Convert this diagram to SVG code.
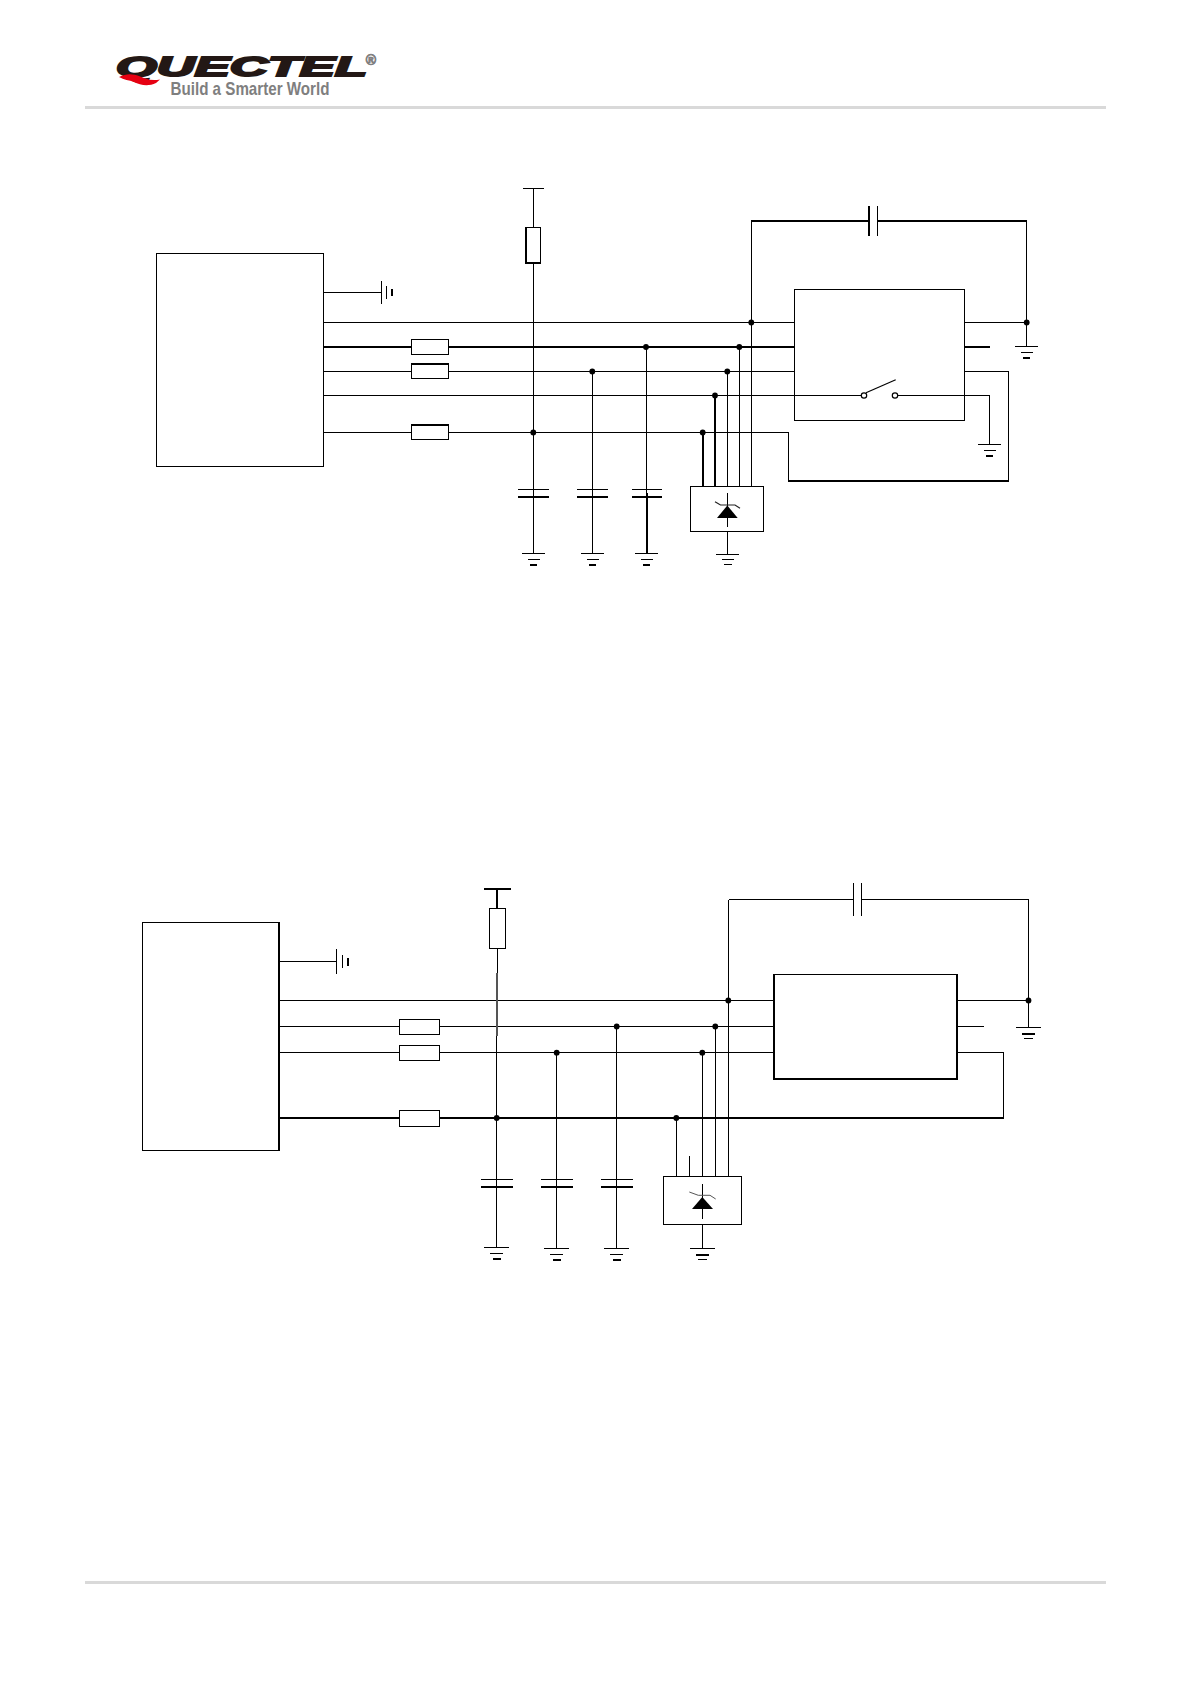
<svg xmlns="http://www.w3.org/2000/svg" width="1191" height="1685" viewBox="0 0 1191 1685">
<style>
.w{stroke:#000;stroke-width:1;fill:none;shape-rendering:crispEdges}
.k{stroke:#000;stroke-width:2;fill:none;shape-rendering:crispEdges}
.g{stroke:#555;stroke-width:2;fill:none;shape-rendering:crispEdges}
.b{stroke:#000;stroke-width:1;fill:#fff;shape-rendering:crispEdges}
.d{fill:#000}
.rule{stroke:#d9d9d9;stroke-width:3;shape-rendering:crispEdges}
.sw{stroke:#000;stroke-width:1.2;fill:#fff}
</style>
<defs>
<g id="gnd-a"><path class="w" d="M-11.5 0H11.5M-6 5.5H6"/><path class="k" d="M-3.5 11H3.5"/></g>
<g id="gnd-t"><path class="w" d="M-11.5 0H11.5M-6 5H6M-4 10H4"/></g>
<g id="gnd-b"><path class="w" d="M-12.5 0H12.5M-6.5 6H6.5"/><path class="k" d="M-4 11H4"/></g>
<g id="gnd-c"><path class="w" d="M-12.5 0H12.5M-4.5 11H4.5"/><path class="k" d="M-6.5 6H6.5"/></g>
<circle id="dot" class="d" r="2.9"/>
</defs>

<g id="logo">
<text x="116" y="76" font-family="Liberation Sans, sans-serif" font-size="28" font-weight="700" font-style="italic" textLength="251" lengthAdjust="spacingAndGlyphs" fill="#231815" stroke="#231815" stroke-width="2">QUECTEL</text>
<path d="M119 77C127 73 133 74 139 76C145 79 151 81 160 79.500L156 83C148 87 140 85 134 82C129 80 124 80 119 77Z" fill="#e60012"/>
<text x="371" y="65" font-family="Liberation Sans, sans-serif" font-size="14" font-weight="700" fill="#808080" stroke="#808080" stroke-width="0.800" text-anchor="middle">®</text>
<text x="170.500" y="94.500" font-family="Liberation Sans, sans-serif" font-size="18.500" font-weight="700" textLength="159" lengthAdjust="spacingAndGlyphs" fill="#7f7f7f">Build a Smarter World</text>
</g>
<g id="page-rules">
<line class="rule" x1="85" y1="107.500" x2="1106" y2="107.500"/>
<line class="rule" x1="85" y1="1582.500" x2="1106" y2="1582.500"/>
</g>

<g id="connectors">
<!-- top circuit -->
<path class="w" d="M323.500 292.500H381.500"/>
<path class="w" d="M323.500 322.500H1026.500"/>
<path class="k" d="M323.500 347H794"/>
<path class="w" d="M323.500 371.500H794"/>
<path class="w" d="M323.500 395.500H864"/>
<path class="w" d="M323.500 432.500H788.500V480.500"/>
<path class="w" d="M533.500 188.500V553"/>
<path class="w" d="M592.500 371.500V553"/>
<path class="w" d="M646.500 347V493"/>
<path class="k" d="M647 493V553"/>
<path class="k" d="M703 432.500V486M715 395.500V486"/>
<path class="w" d="M727.500 371.500V486M739.500 347V486M751.500 221V486"/>
<path class="k" d="M751 221H869M877 221H1027"/>
<path class="k" d="M788 481H1009"/>
<path class="w" d="M1026.500 221V346"/>
<path class="k" d="M964 347H989.500"/>
<path class="w" d="M964 371.500H1008.500V481"/>
<path class="w" d="M897 395.500H989.500V444"/>
<path class="w" d="M727.500 531V554"/>
<!-- bottom circuit -->
<path class="w" d="M279 961.500H336.500"/>
<path class="w" d="M279 1000.500H1028.500"/>
<path class="w" d="M279 1026.500H774"/>
<path class="w" d="M279 1052.500H774"/>
<path class="k" d="M279 1118H1003.500"/>
<path class="k" d="M497 889V908"/>
<path class="w" d="M497 948V973"/>
<path class="g" d="M497 973V1036"/>
<path class="w" d="M496.500 1036V1247"/>
<path class="w" d="M556.500 1052.500V1248"/>
<path class="w" d="M616.500 1026.500V1248"/>
<path class="w" d="M676.500 1118V1176M689.500 1156V1176M702.500 1052.500V1176M715.500 1026.500V1176M728.500 899.500V1176"/>
<path class="w" d="M728.500 899.500H853M861 899.500H1028.500V1027"/>
<path class="w" d="M957 1026.500H983.500"/>
<path class="w" d="M957 1052.500H1003.500V1118"/>
<path class="w" d="M702.500 1224V1248"/>
</g>

<g id="top-host">
<rect class="b" x="156.500" y="253.500" width="167" height="213"/>
<path class="w" d="M381.500 281V304M386.500 286V299"/><path class="k" d="M392 289V296"/>
</g>
<g id="top-pullup">
<path class="w" d="M522.500 188.500H544"/>
<rect class="b" x="525.500" y="227.500" width="15" height="36"/>
<path class="k" d="M526 227V264M525 263H541"/>
</g>
<g id="top-r1"><rect class="b" x="411.500" y="339.500" width="37" height="15"/></g>
<g id="top-r2"><rect class="b" x="411.500" y="363.500" width="37" height="15"/><path class="k" d="M411 364H449"/></g>
<g id="top-r3"><rect class="b" x="411.500" y="424.500" width="37" height="15"/><path class="k" d="M411 425H449"/></g>
<g id="top-c1"><path class="w" d="M518 489.500H548.500"/><path class="k" d="M518 497H548.500"/><use href="#gnd-a" x="533.500" y="553.500"/></g>
<g id="top-c2"><path class="w" d="M577 489.500H607.500"/><path class="k" d="M577 497H607.500"/><use href="#gnd-a" x="592.500" y="553.500"/></g>
<g id="top-c3"><path class="w" d="M631.500 489.500H662"/><path class="k" d="M631.500 497H662"/><use href="#gnd-a" x="646.500" y="553.500"/></g>
<g id="top-cs"><path class="k" d="M869 206V236"/><path class="w" d="M877.500 206V236"/></g>
<g id="top-chip">
<rect class="b" x="794.500" y="289.500" width="170" height="131"/>
<path class="w" d="M794.500 395.500H864M897 395.500H964.500"/>
<path class="sw" d="M866 392.700L895.700 379.700" fill="none"/>
<circle class="sw" cx="864" cy="395.500" r="2.700"/>
<circle class="sw" cx="895" cy="395.500" r="2.700"/>
</g>
<g id="top-tvs">
<rect class="b" x="690.500" y="486.500" width="73" height="45"/>
<path class="w" d="M727.500 493V527"/>
<path d="M727.300 505.500L737.700 518H717Z" class="d"/>
<path d="M715 501.700L720.500 505H735L740 508.300" fill="none" stroke="#222" stroke-width="1.200"/>
<use href="#gnd-t" x="727.500" y="554.500"/>
</g>
<g id="top-gnd-r"><use href="#gnd-a" x="1026.500" y="346.500"/><use href="#gnd-a" x="989.500" y="444.500"/></g>
<g id="top-dots">
<use href="#dot" x="533.300" y="432.500"/><use href="#dot" x="592.300" y="371.500"/><use href="#dot" x="646" y="347"/>
<use href="#dot" x="702.700" y="432.500"/><use href="#dot" x="715" y="395.500"/><use href="#dot" x="727.300" y="371.500"/>
<use href="#dot" x="739.300" y="347"/><use href="#dot" x="751.300" y="322.500"/><use href="#dot" x="1026.700" y="322.500"/>
</g>

<g id="bottom-host">
<rect class="b" x="142.500" y="922.500" width="136.500" height="228"/>
<path class="k" d="M279 922V1151"/>
<path class="w" d="M336.500 949V974M342.500 955V968"/><path class="k" d="M348 958V966"/>
</g>
<g id="bottom-pullup">
<path class="k" d="M483.500 889H511"/>
<rect class="b" x="489.500" y="908.500" width="16" height="40"/>
</g>
<g id="bottom-r1"><rect class="b" x="399.500" y="1019.500" width="40" height="15"/></g>
<g id="bottom-r2"><rect class="b" x="399.500" y="1045.500" width="40" height="15"/></g>
<g id="bottom-r3"><rect class="b" x="399.500" y="1110.500" width="40" height="16"/></g>
<g id="bottom-c1"><path class="w" d="M480.500 1179.500H513"/><path class="k" d="M480.500 1187H513"/><use href="#gnd-b" x="496.500" y="1247.500"/></g>
<g id="bottom-c2"><path class="w" d="M540.500 1179.500H573"/><path class="k" d="M540.500 1187H573"/><use href="#gnd-b" x="556.500" y="1248.500"/></g>
<g id="bottom-c3"><path class="w" d="M600.500 1179.500H633"/><path class="k" d="M600.500 1187H633"/><use href="#gnd-b" x="616.500" y="1248.500"/></g>
<g id="bottom-cs"><path class="w" d="M853.500 883V916M861.500 883V916"/></g>
<g id="bottom-chip">
<rect class="b" x="774" y="974" width="183" height="105"/>
<path class="k" d="M774 974V1080M957 974V1080M774 1079H958"/>
</g>
<g id="bottom-tvs">
<rect class="b" x="663.500" y="1176.500" width="78" height="48"/>
<path class="w" d="M702.500 1184V1219"/>
<path d="M702.300 1197L713 1209H692Z" class="d"/>
<path d="M689.300 1192L698.300 1195.300H710L715.700 1199" fill="none" stroke="#555" stroke-width="1"/>
<use href="#gnd-c" x="702.500" y="1248.500"/>
</g>
<g id="bottom-gnd-r"><use href="#gnd-c" x="1028.500" y="1027.500"/></g>
<g id="bottom-dots">
<use href="#dot" x="496.700" y="1118"/><use href="#dot" x="556.700" y="1052.700"/><use href="#dot" x="616.700" y="1026.500"/>
<use href="#dot" x="676.300" y="1118"/><use href="#dot" x="702.300" y="1052.700"/><use href="#dot" x="715.300" y="1026.500"/>
<use href="#dot" x="728.300" y="1000.500"/><use href="#dot" x="1028.500" y="1000.500"/>
</g>
</svg>
